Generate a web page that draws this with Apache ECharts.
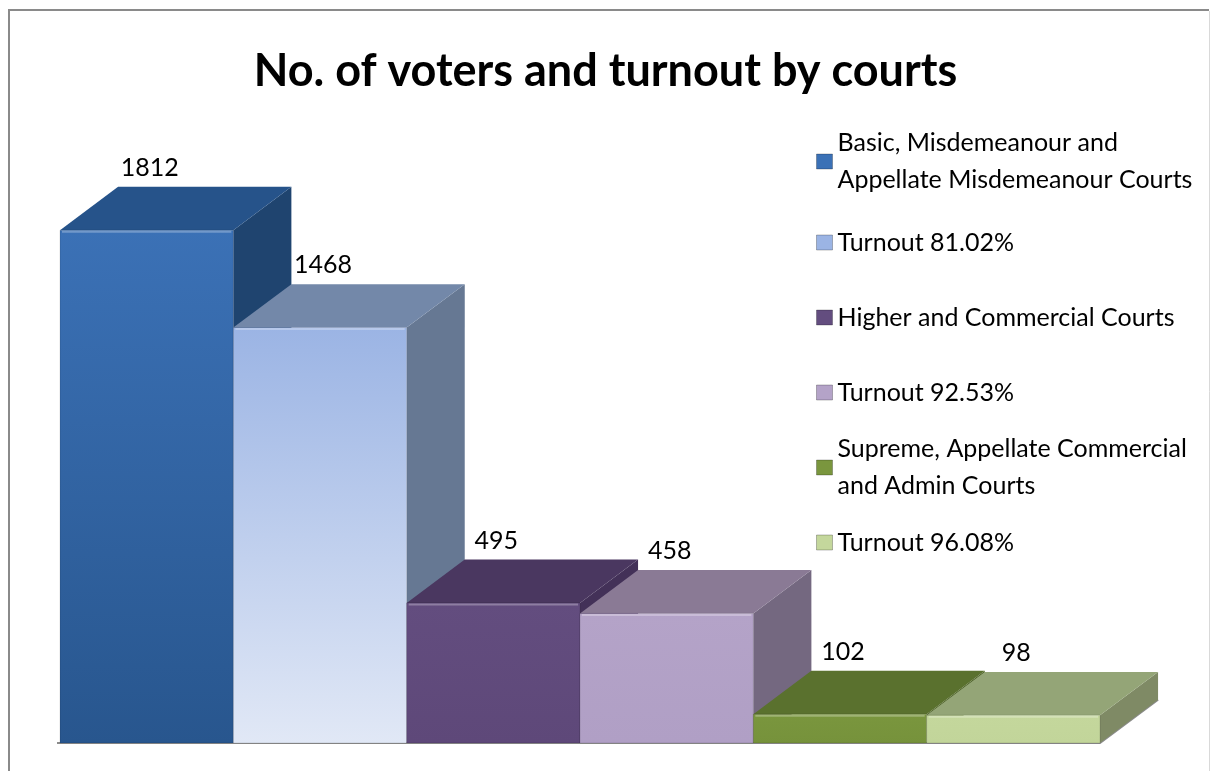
<!DOCTYPE html>
<html>
<head>
<meta charset="utf-8">
<script src="https://cdn.jsdelivr.net/npm/echarts@6/dist/echarts.min.js"></script>
<style>
  html, body { margin: 0; padding: 0; background: #ffffff; }
  #chart { width: 1211px; height: 771px; }
</style>
</head>
<body>
<div id="chart"></div>
<script>
// Court groups and their turnout, one bar each
const seriesNames = [
  'Basic, Misdemeanour and\nAppellate Misdemeanour Courts',
  'Turnout 81.02%',
  'Higher and Commercial Courts',
  'Turnout 92.53%',
  'Supreme, Appellate Commercial\nand Admin Courts',
  'Turnout 96.08%'
];
const voterCounts = [1812, 1468, 495, 458, 102, 98];
const titleText = 'No. of voters and turnout by courts';

// Palette: front face (top -> bottom gradient), lid and right side of each prism
const frontTopColors    = ['#3b71b6', '#9bb4e4', '#634d7f', '#b4a3c8', '#7a963e', '#c4d79c'];
const frontBottomColors = ['#28568e', '#e1e8f6', '#5e4879', '#b09fc5', '#76923b', '#c2d59a'];
const lidColors  = ['#26538a', '#7388a9', '#4a3760', '#8a7a95', '#5a712e', '#94a577'];
const sideColors = ['#1f446f', '#667893', '#433158', '#746880', '#4d6228', '#7f8a65'];

// Legend vertical placement (top of each legend block)
const legendTops = [106, 224, 299, 374, 412, 524];

const FONT = 'Lato, "Open Sans", "Liberation Sans", sans-serif';
const LINE_H = 37;

const chart = echarts.init(document.getElementById('chart'), null, { renderer: 'canvas' });

function renderPrism(params, api) {
  const idx = api.value(0);
  const val = api.value(1);
  const base = api.coord([idx, 0]);
  const top = api.coord([idx, val]);
  const w = api.size([1, 0])[0];
  const x0 = base[0] - w / 2;
  const x1 = base[0] + w / 2;
  const dx = w * 0.335;
  const dy = -w * 0.25;
  const yt = top[1];
  const yb = base[1];
  return {
    type: 'group',
    children: [
      {
        type: 'polygon',
        shape: { points: [[x1, yt], [x1 + dx, yt + dy], [x1 + dx, yb + dy], [x1, yb]] },
        style: { fill: sideColors[idx] }
      },
      {
        type: 'polygon',
        shape: { points: [[x0, yt], [x1, yt], [x1 + dx, yt + dy], [x0 + dx, yt + dy]] },
        style: { fill: lidColors[idx] }
      },
      {
        type: 'rect',
        shape: { x: x0, y: yt, width: w, height: yb - yt },
        style: {
          fill: {
            type: 'linear', x: 0, y: 0, x2: 0, y2: 1,
            colorStops: [
              { offset: 0, color: frontTopColors[idx] },
              { offset: 1, color: frontBottomColors[idx] }
            ]
          },
          stroke: 'rgba(0,0,0,0.12)',
          lineWidth: 1
        }
      },
      {
        // soft bevel highlight along the front top edge
        type: 'line',
        shape: { x1: x0 + 2, y1: yt + 1.5, x2: x1 - 2, y2: yt + 1.5 },
        style: { stroke: 'rgba(255,255,255,0.28)', lineWidth: 2 }
      },
      {
        type: 'text',
        style: {
          text: String(val),
          x: base[0] + 3,
          y: yt + dy - 19,
          align: 'center',
          verticalAlign: 'middle',
          font: '25px ' + FONT,
          fill: '#000000'
        }
      }
    ]
  };
}

function renderFloor(params, api) {
  const first = api.coord([0, 0]);
  const last = api.coord([seriesNames.length - 1, 0]);
  const w = api.size([1, 0])[0];
  const xl = first[0] - w / 2 - 3;
  const xr = last[0] + w / 2;
  const y = first[1];
  return {
    type: 'polyline',
    shape: { points: [[xl, y], [xr, y], [xr + w * 0.335, y - w * 0.25]] },
    style: { stroke: '#8c8c8c', lineWidth: 2, fill: null }
  };
}

const prismSeries = seriesNames.map((name, i) => ({
  type: 'custom',
  name: name,
  renderItem: renderPrism,
  itemStyle: { color: frontTopColors[i] },
  data: [[i, voterCounts[i]]],
  encode: { x: 0, y: 1 },
  z: 2
}));

const floorSeries = {
  type: 'custom',
  name: 'floor',
  renderItem: renderFloor,
  data: [[0, 0]],
  encode: { x: 0, y: 1 },
  silent: true,
  z: 1
};

const legends = seriesNames.map((name, i) => {
  const twoLine = name.indexOf('\n') >= 0;
  return {
    data: [name],
    orient: 'vertical',
    left: 816,
    top: legendTops[i],
    padding: 0,
    itemWidth: 16,
    itemHeight: 15,
    itemGap: 0,
    icon: 'rect',
    selectedMode: false,
    itemStyle: { borderColor: 'rgba(0,0,0,0.25)', borderWidth: 1 },
    textStyle: {
      fontFamily: FONT,
      fontSize: 25,
      color: '#000000',
      lineHeight: LINE_H,
      padding: twoLine ? [LINE_H, 0, 0, 0] : 0
    }
  };
});

chart.setOption({
  backgroundColor: '#ffffff',
  animation: false,
  title: {
    text: titleText,
    left: 'center',
    top: 44,
    textStyle: { fontFamily: FONT, fontSize: 45, fontWeight: 'bold', color: '#000000' }
  },
  legend: legends,
  grid: { left: 60, right: 111, top: 177, bottom: 28 },
  xAxis: {
    type: 'category',
    data: seriesNames,
    boundaryGap: true,
    axisLine: { show: false },
    axisTick: { show: false },
    axisLabel: { show: false },
    splitLine: { show: false }
  },
  yAxis: {
    type: 'value',
    min: 0,
    max: 2000,
    show: false
  },
  graphic: [
    {
      type: 'polyline',
      shape: { points: [[9, 780], [9, 10], [1209, 10]] },
      style: { stroke: '#8a8a8a', lineWidth: 2, fill: null },
      silent: true
    },
    {
      type: 'line',
      shape: { x1: 1209.5, y1: 11, x2: 1209.5, y2: 780 },
      style: { stroke: '#d9d9d9', lineWidth: 1 },
      silent: true
    }
  ],
  series: [floorSeries].concat(prismSeries)
});
</script>
</body>
</html>
